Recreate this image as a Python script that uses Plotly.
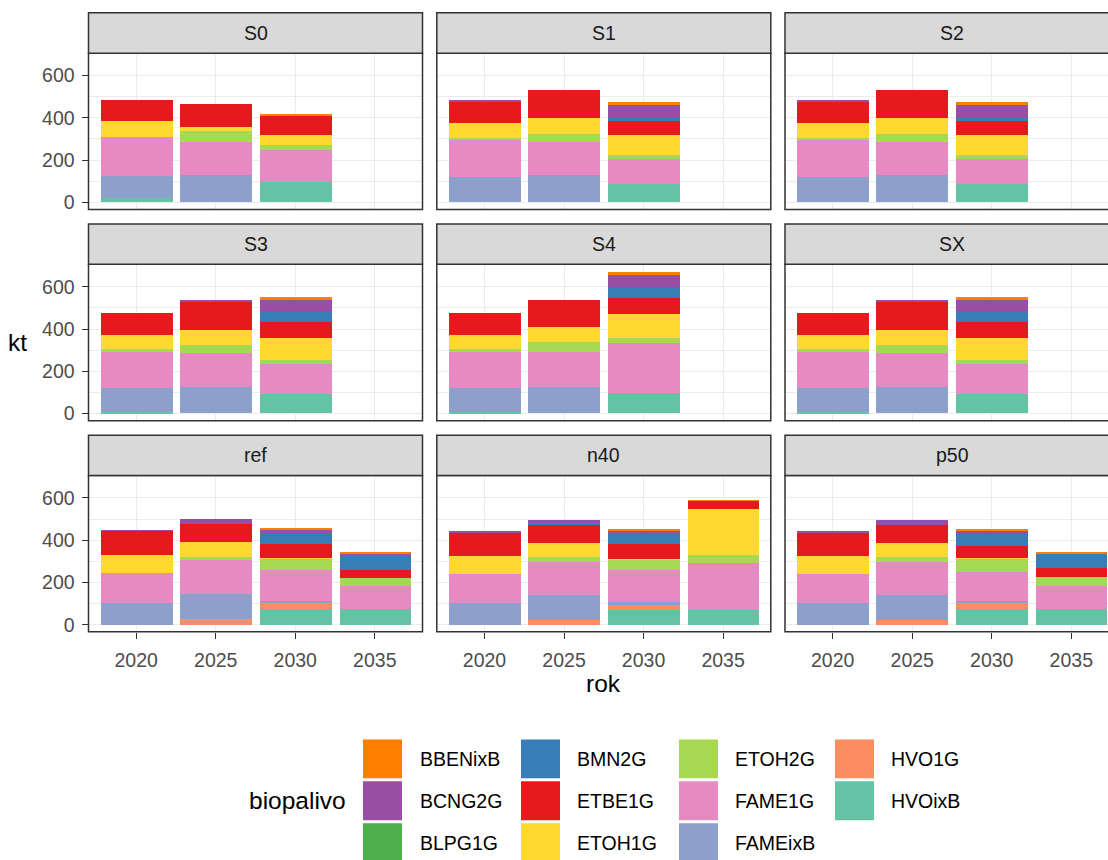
import plotly.graph_objects as go

# ---------------- data ----------------
years = [2020, 2025, 2030, 2035]
scenarios = ["S0", "S1", "S2", "S3", "S4", "SX", "ref", "n40", "p50"]
categories = ["BBENixB", "BCNG2G", "BLPG1G", "BMN2G", "ETBE1G", "ETOH1G",
              "ETOH2G", "FAME1G", "FAMEixB", "HVO1G", "HVOixB"]
colors = ["#FF7F00", "#984EA3", "#4DAF4A", "#377EB8", "#E41A1C", "#FFD92F",
          "#A6D854", "#E78AC3", "#8DA0CB", "#FC8D62", "#66C2A5"]

# one row per scenario (order of `scenarios`), values for 2020, 2025, 2030, 2035 (kt)
BBENixB = [[0, 0, 8, 0], [0, 0, 12, 0], [0, 0, 12, 0], [0, 0, 12, 0], [0, 0, 12, 0],
           [0, 0, 12, 0], [0, 0, 11, 5], [0, 0, 6, 3], [0, 0, 8, 6]]
BCNG2G = [[0, 0, 0, 0], [3, 0, 60, 0], [3, 0, 60, 0], [0, 5, 59, 0], [0, 0, 59, 0],
          [0, 5, 59, 0], [3, 18, 12, 6], [9, 16, 13, 0], [9, 22, 19, 0]]
BLPG1G = [[0, 0, 0, 0], [0, 0, 0, 0], [0, 0, 0, 0], [0, 0, 0, 0], [0, 0, 0, 0],
          [0, 0, 0, 0], [0, 0, 0, 0], [0, 0, 0, 0], [0, 0, 0, 0]]
BMN2G = [[0, 0, 0, 0], [0, 0, 16, 0], [0, 0, 16, 0], [0, 0, 48, 0], [0, 0, 50, 0],
         [0, 0, 48, 0], [0, 5, 53, 68], [0, 6, 53, 0], [0, 0, 53, 68]]
ETBE1G = [[100, 107, 90, 0], [102, 132, 66, 0], [102, 132, 66, 0], [104, 134, 72, 0],
          [104, 132, 76, 0], [104, 134, 72, 0], [115, 86, 68, 41], [112, 86, 68, 41],
          [112, 86, 61, 47]]
ETOH1G = [[75, 20, 49, 0], [69, 77, 94, 0], [69, 77, 94, 0], [65, 70, 104, 0],
          [65, 70, 115, 0], [65, 70, 104, 0], [83, 68, 2, 0], [83, 68, 2, 215],
          [83, 68, 2, 0]]
ETOH2G = [[0, 52, 24, 0], [11, 39, 20, 0], [11, 39, 20, 0], [11, 42, 22, 0],
          [11, 44, 22, 0], [11, 42, 22, 0], [0, 17, 55, 38], [0, 20, 53, 39],
          [0, 22, 60, 42]]
FAME1G = [[187, 157, 149, 0], [173, 157, 118, 0], [173, 157, 118, 0], [174, 157, 140, 0],
          [174, 168, 238, 0], [174, 157, 140, 0], [141, 159, 146, 105],
          [137, 156, 152, 220], [137, 154, 141, 105]]
FAMEixB = [[104, 127, 0, 0], [121, 127, 0, 0], [121, 127, 0, 0], [110, 126, 0, 0],
           [110, 124, 0, 0], [110, 126, 0, 0], [107, 119, 6, 0], [107, 121, 9, 0],
           [107, 118, 6, 0]]
HVO1G = [[0, 0, 0, 0], [0, 0, 0, 0], [0, 0, 0, 0], [0, 0, 0, 0], [0, 0, 0, 0],
         [0, 0, 0, 0], [0, 30, 28, 0], [0, 24, 25, 0], [0, 27, 28, 0]]
HVOixB = [[18, 0, 97, 0], [0, 0, 86, 0], [0, 0, 86, 0], [8, 0, 92, 0], [8, 0, 95, 0],
          [8, 0, 92, 0], [0, 0, 79, 79], [0, 0, 74, 74], [0, 0, 79, 79]]

values = [BBENixB, BCNG2G, BLPG1G, BMN2G, ETBE1G, ETOH1G, ETOH2G, FAME1G,
          FAMEixB, HVO1G, HVOixB]

y_ticks = [0, 200, 400, 600]
y_minor = [100, 300, 500]

# ---------------- layout geometry (pixels) ----------------
W, H = 1108, 860
col_x = [(88.5, 422.5), (436.8, 770.8), (785.0, 1119.0)]
row_top = [53.4, 265.6, 477.8]
ph = 157.0
strip_h = 40.5
x_lo, x_span = 2017.0, 21.0
y_range = [-33.4, 706.0]

FONT = "Liberation Sans, Arial, sans-serif"
BORDER = "#333333"
GRID = "#EBEBEB"

fig = go.Figure()
shapes = []
annotations = []
layout_axes = {}

for i, scen in enumerate(scenarios):
    r, c = divmod(i, 3)
    k = "" if i == 0 else str(i + 1)
    x0, x1 = col_x[c]
    xd1 = min(x1, W)
    x_hi = x_lo + (xd1 - x0) / (x1 - x0) * x_span
    top = row_top[r]
    bot = top + ph

    # stacked bars: first factor level on top -> add in reverse order
    for cat, col, vals in reversed(list(zip(categories, colors, values))):
        fig.add_trace(go.Bar(
            x=years, y=vals[i], name=cat, marker=dict(color=col, line=dict(width=0)),
            width=4.5, xaxis="x" + k, yaxis="y" + k, showlegend=False,
            hovertemplate=cat + ": %{y} kt<extra></extra>"))

    layout_axes["xaxis" + k] = dict(
        domain=[x0 / W, xd1 / W], anchor="y" + k, range=[x_lo, x_hi],
        tickvals=years, ticktext=[str(y) for y in years],
        showgrid=True, gridcolor=GRID, gridwidth=1.3, zeroline=False,
        ticks="outside" if r == 2 else "", showticklabels=(r == 2),
        ticklen=6, tickwidth=1.3, tickcolor=BORDER, ticklabelstandoff=5,
        tickfont=dict(size=19.5, color="#4D4D4D", family=FONT),
        showline=False, fixedrange=True)
    layout_axes["yaxis" + k] = dict(
        domain=[1 - bot / H, 1 - top / H], anchor="x" + k, range=y_range,
        tickvals=y_ticks, showgrid=True, gridcolor=GRID, gridwidth=1.3,
        minor=dict(tickvals=y_minor, showgrid=True, gridcolor=GRID, gridwidth=0.7),
        zeroline=False, ticks="outside" if c == 0 else "", showticklabels=(c == 0),
        ticklen=6, tickwidth=1.3, tickcolor=BORDER, ticklabelstandoff=3,
        tickfont=dict(size=19.5, color="#4D4D4D", family=FONT),
        showline=False, fixedrange=True)

    # panel border
    shapes.append(dict(type="rect", xref="paper", yref="paper",
                       x0=x0 / W, x1=x1 / W, y0=1 - bot / H, y1=1 - top / H,
                       line=dict(color=BORDER, width=1.5), fillcolor="rgba(0,0,0,0)",
                       layer="above"))
    # strip
    shapes.append(dict(type="rect", xref="paper", yref="paper",
                       x0=x0 / W, x1=x1 / W, y0=1 - top / H, y1=1 - (top - strip_h) / H,
                       line=dict(color=BORDER, width=1.5), fillcolor="#D9D9D9",
                       layer="above"))
    annotations.append(dict(text=scen, xref="paper", yref="paper",
                            x=(x0 + x1) / 2 / W, y=1 - (top - strip_h / 2) / H,
                            showarrow=False, xanchor="center", yanchor="middle",
                            font=dict(size=19.5, color="#1A1A1A", family=FONT)))

# axis titles
annotations.append(dict(text="kt", xref="paper", yref="paper", x=17 / W,
                        y=1 - 344 / H, showarrow=False, xanchor="center",
                        yanchor="middle", font=dict(size=24.5, color="black", family=FONT)))
annotations.append(dict(text="rok", xref="paper", yref="paper",
                        x=(col_x[0][0] + col_x[2][1]) / 2 / W, y=1 - 687 / H,
                        showarrow=False, xanchor="center", yanchor="middle",
                        font=dict(size=24.5, color="black", family=FONT)))

# legend (3 rows, column-major)
key_x = [363, 521, 679, 835]
label_x = [418, 575, 733, 889]
key_y = [743, 785, 827]
key_s = 39
annotations.append(dict(text="biopalivo", xref="paper", yref="paper", x=297 / W,
                        y=1 - (key_y[1] + key_s / 2) / H, showarrow=False,
                        xanchor="center", yanchor="middle",
                        font=dict(size=24.5, color="black", family=FONT)))
for j, (cat, col) in enumerate(zip(categories, colors)):
    lc, lr = divmod(j, 3)
    kx, ky = key_x[lc], key_y[lr]
    shapes.append(dict(type="rect", xref="paper", yref="paper",
                       x0=kx / W, x1=(kx + key_s) / W,
                       y0=1 - (ky + key_s) / H, y1=1 - ky / H,
                       line=dict(width=0), fillcolor=col))
    annotations.append(dict(text=cat, xref="paper", yref="paper",
                            x=label_x[lc] / W, y=1 - (ky + key_s / 2) / H,
                            showarrow=False, xanchor="left", yanchor="middle",
                            font=dict(size=19.5, color="black", family=FONT)))

fig.update_layout(
    width=W, height=H, autosize=False,
    margin=dict(l=0, r=0, t=0, b=0),
    paper_bgcolor="white", plot_bgcolor="white",
    barmode="stack", bargap=0,
    font=dict(family=FONT),
    shapes=shapes, annotations=annotations,
    **layout_axes)

fig.write_html("out.html")
